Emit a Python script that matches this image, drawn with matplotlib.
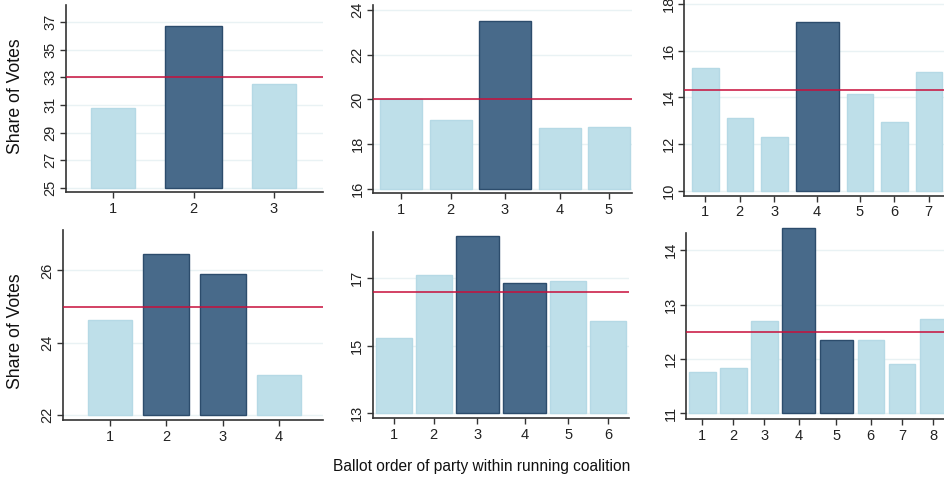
import matplotlib
matplotlib.use("Agg")
import matplotlib.pyplot as plt

plt.rcParams['font.family'] = ['Liberation Sans', 'DejaVu Sans']

# Vote shares by ballot position, one list per coalition size
shares_3 = [30.8, 36.7, 32.5]
shares_4 = [24.62, 26.45, 25.90, 23.11]
shares_5 = [20.0, 19.1, 23.5, 18.7, 18.75]
shares_6 = [15.22, 17.10, 18.26, 16.85, 16.91, 15.73]
shares_7 = [15.25, 13.13, 12.29, 17.24, 14.13, 12.93, 15.07]
shares_8 = [11.76, 11.84, 12.70, 14.40, 12.34, 12.35, 11.91, 12.74]

# Positions flagged as highlighted (dark bars)
highlight_3 = [2]
highlight_4 = [2, 3]
highlight_5 = [3]
highlight_6 = [3, 4]
highlight_7 = [4]
highlight_8 = [4, 5]

# Benchmark share (equal split) for each coalition size
benchmark_3 = 33.0
benchmark_4 = 25.0
benchmark_5 = 20.0
benchmark_6 = 16.6
benchmark_7 = 14.3
benchmark_8 = 12.5

y_ticks_3 = [25, 27, 29, 31, 33, 35, 37]
y_ticks_4 = [22, 24, 26]
y_ticks_5 = [16, 18, 20, 22, 24]
y_ticks_6 = [13, 15, 17]
y_ticks_7 = [10, 12, 14, 16, 18]
y_ticks_8 = [11, 12, 13, 14]

W, H = 944, 478
LIGHT = '#bedfe9'
LIGHT_EDGE = '#b5d9e5'
DARK = '#486a8a'
DARK_EDGE = '#2c4c6c'
REF = '#c8103c'
GRID = '#e9f2f4'
SPINE = '#333333'

panels = [
    # values, highlighted, benchmark, yticks, ylim, box(left, right, top, bottom px),
    # light width, dark width, gap, left pad (px)
    dict(v=shares_3, hi=highlight_3, ref=benchmark_3, yt=y_ticks_3, ylim=(24.69, 38.24),
         box=(66, 323, 5, 192), wl=44, wd=57, gap=30, pad=25),
    dict(v=shares_5, hi=highlight_5, ref=benchmark_5, yt=y_ticks_5, ylim=(15.82, 24.21),
         box=(373, 632, 5, 193), wl=42, wd=52, gap=7.5, pad=7),
    dict(v=shares_7, hi=highlight_7, ref=benchmark_7, yt=y_ticks_7, ylim=(9.786, 18.17),
         box=(684, 948, 0, 195.7), wl=26.5, wd=43, gap=8, pad=8),
    dict(v=shares_4, hi=highlight_4, ref=benchmark_4, yt=y_ticks_4, ylim=(21.86, 27.12),
         box=(63, 323, 230, 420), wl=44, wd=46, gap=11, pad=25),
    dict(v=shares_6, hi=highlight_6, ref=benchmark_6, yt=y_ticks_6, ylim=(12.85, 18.38),
         box=(372.7, 629, 231.7, 418.3), wl=35.5, wd=43, gap=4.3, pad=3.5),
    dict(v=shares_8, hi=highlight_8, ref=benchmark_8, yt=y_ticks_8, ylim=(10.895, 14.32),
         box=(686, 948, 232.7, 419), wl=26.5, wd=33, gap=4.6, pad=3),
]

fig = plt.figure(figsize=(W / 100, H / 100), dpi=100)

for p in panels:
    l, r, t, b = p['box']
    ax = fig.add_axes([l / W, 1 - b / H, (r - l) / W, (b - t) / H])
    ax.set_xlim(0, r - l)
    ax.set_ylim(*p['ylim'])
    base = p['yt'][0]

    # pack bars left to right; highlighted bars are wider
    x = p['pad']
    centers = []
    for i, val in enumerate(p['v']):
        pos = i + 1
        dark = pos in p['hi']
        w = p['wd'] if dark else p['wl']
        c = x + w / 2
        centers.append(c)
        ax.bar(c, val - base, width=w, bottom=base,
               color=DARK if dark else LIGHT,
               edgecolor=DARK_EDGE if dark else LIGHT_EDGE,
               linewidth=1.0, zorder=2, clip_on=(val <= p['ylim'][1]))
        x += w + p['gap']

    ax.axhline(p['ref'], color=REF, lw=1.3, alpha=0.85, zorder=3)

    ax.set_yticks(p['yt'])
    ax.set_yticklabels([str(v) for v in p['yt']], rotation=90, va='center')
    ax.set_xticks(centers)
    ax.set_xticklabels([str(i + 1) for i in range(len(p['v']))])
    ax.yaxis.grid(True, color=GRID, lw=1.0, zorder=0)
    ax.set_axisbelow(True)
    for s in ('top', 'right'):
        ax.spines[s].set_visible(False)
    for s in ('left', 'bottom'):
        ax.spines[s].set_color(SPINE)
        ax.spines[s].set_linewidth(1.2)
    ax.tick_params(axis='both', direction='out', length=4, width=1.0, color=SPINE,
                   labelcolor='#222222', pad=2)
    ax.tick_params(axis='y', labelsize=10.5)
    ax.tick_params(axis='x', labelsize=10.5, pad=3)

fig.text(16 / W, 1 - 96.5 / H, 'Share of Votes', rotation=90, ha='center', va='center',
         fontsize=12.7, color='#111111')
fig.text(16 / W, 1 - 331 / H, 'Share of Votes', rotation=90, ha='center', va='center',
         fontsize=12.7, color='#111111')
fig.text(481.5 / W, 1 - 466 / H, 'Ballot order of party within running coalition',
         ha='center', va='center', fontsize=11.2, color='#111111')

fig.savefig('out.png', dpi=100)
